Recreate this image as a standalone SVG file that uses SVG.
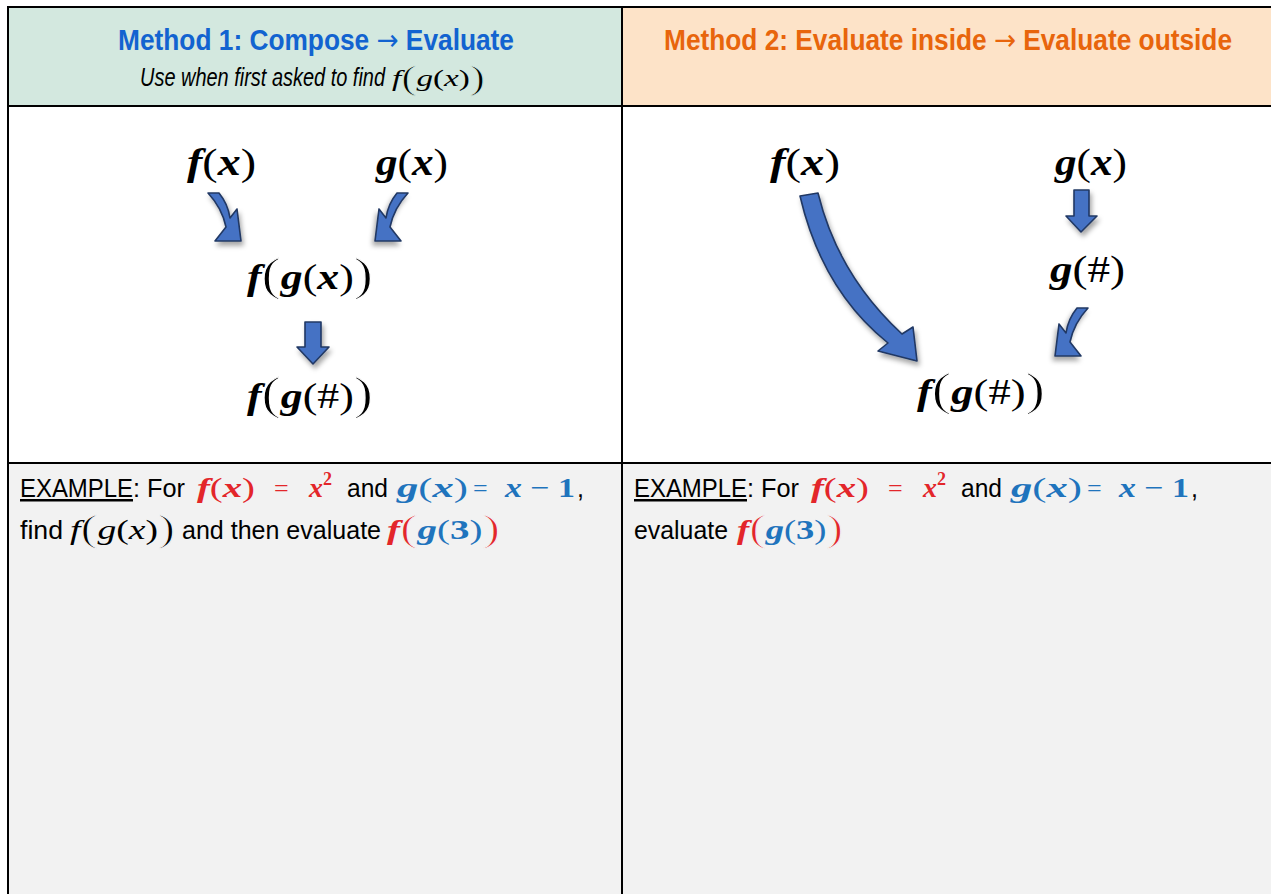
<svg xmlns="http://www.w3.org/2000/svg" width="1271" height="894" viewBox="0 0 1271 894">
<style>
.title{font-family:"Liberation Sans",Arial,sans-serif;font-weight:bold;font-size:29px}
.arr{font-family:"DejaVu Sans",sans-serif;font-weight:normal}
.sans{font-family:"Liberation Sans",Arial,sans-serif;font-size:25px;fill:#000}
.m{font-family:"Liberation Serif","Times New Roman",serif;font-weight:bold;font-style:italic;fill:#000}
.mi{font-family:"Liberation Serif","Times New Roman",serif;font-style:italic;fill:#000}
.p{font-style:normal;font-weight:normal}
.pb{font-style:normal}
.tw{stroke:#fff;stroke-width:1}
.tg{stroke:#f2f2f2;stroke-width:1}
.tt{stroke:#d3e8df;stroke-width:0.8}
.arrow{fill:#4472c4;stroke:#203864;stroke-width:1.6;stroke-linejoin:round;filter:url(#sh)}
.grid{stroke:#000;stroke-width:2;fill:none}
.red{fill:#e3262a}
.blue{fill:#1f74bd}
</style>
<defs>
<filter id="sh" x="-30%" y="-30%" width="160%" height="160%">
<feDropShadow dx="2" dy="4" stdDeviation="2.5" flood-color="#000" flood-opacity="0.35"/>
</filter>
<path id="curveArrow" d="M208,193 L219,193 Q228,204 230,218 L237,209 L241,241 L215,241 L226,227 Q222,208 208,193 Z"/>
</defs>

<g id="table">
<rect x="8" y="7" width="614" height="99" fill="#d3e8df"/>
<rect x="622" y="7" width="650" height="99" fill="#fde3c8"/>
<rect x="8" y="106" width="1264" height="357" fill="#ffffff"/>
<rect x="8" y="463" width="1264" height="431" fill="#f2f2f2"/>
<line class="grid" x1="8" y1="7" x2="1271" y2="7"/>
<line class="grid" x1="8" y1="6" x2="8" y2="894"/>
<line class="grid" x1="622" y1="6" x2="622" y2="894"/>
<line class="grid" x1="8" y1="106" x2="1271" y2="106"/>
<line class="grid" x1="8" y1="463" x2="1271" y2="463"/>
</g>

<g id="header1">
<text class="title" x="118" y="50" fill="#1263d0" textLength="396" lengthAdjust="spacingAndGlyphs">Method 1: Compose <tspan class="arr">→</tspan> Evaluate</text>
<text class="sans" x="140" y="86" font-size="22" font-style="italic" fill="#222" textLength="245" lengthAdjust="spacingAndGlyphs">Use when first asked to find</text>
<text class="mi" x="392" y="86" font-size="24" textLength="93" lengthAdjust="spacingAndGlyphs">f<tspan class="p tt" font-size="33" dy="3">(</tspan><tspan dy="-3">g</tspan><tspan class="p">(</tspan>x<tspan class="p">)</tspan><tspan class="p tt" font-size="33" dy="3">)</tspan></text>
</g>

<g id="header2">
<text class="title" x="664" y="50" fill="#e8650c" textLength="568" lengthAdjust="spacingAndGlyphs">Method 2: Evaluate inside <tspan class="arr">→</tspan> Evaluate outside</text>
</g>

<g id="m1-fx"><text class="m" x="187" y="175" font-size="37" textLength="69" lengthAdjust="spacingAndGlyphs">f<tspan class="p">(</tspan>x<tspan class="p">)</tspan></text></g>
<g id="m1-gx"><text class="m" x="376" y="175" font-size="37" textLength="72" lengthAdjust="spacingAndGlyphs">g<tspan class="p">(</tspan>x<tspan class="p">)</tspan></text></g>
<g id="m1-fgx"><text class="m" x="247" y="289" font-size="35" textLength="126" lengthAdjust="spacingAndGlyphs">f<tspan class="p tw" font-size="46" dy="1">(</tspan><tspan dy="-1">g</tspan><tspan class="p">(</tspan>x<tspan class="p">)</tspan><tspan class="p tw" font-size="46" dy="1">)</tspan></text></g>
<g id="m1-fgh"><text class="m" x="247" y="408" font-size="35" textLength="126" lengthAdjust="spacingAndGlyphs">f<tspan class="p tw" font-size="46" dy="1">(</tspan><tspan dy="-1">g</tspan><tspan class="p">(#)</tspan><tspan class="p tw" font-size="46" dy="1">)</tspan></text></g>

<g id="m2-fx"><text class="m" x="770" y="175" font-size="37" textLength="70" lengthAdjust="spacingAndGlyphs">f<tspan class="p">(</tspan>x<tspan class="p">)</tspan></text></g>
<g id="m2-gx"><text class="m" x="1055" y="175" font-size="37" textLength="72" lengthAdjust="spacingAndGlyphs">g<tspan class="p">(</tspan>x<tspan class="p">)</tspan></text></g>
<g id="m2-gh"><text class="m" x="1050" y="282" font-size="37" textLength="75" lengthAdjust="spacingAndGlyphs">g<tspan class="p">(#)</tspan></text></g>
<g id="m2-fgh"><text class="m" x="917" y="404" font-size="35" textLength="128" lengthAdjust="spacingAndGlyphs">f<tspan class="p tw" font-size="46" dy="1">(</tspan><tspan dy="-1">g</tspan><tspan class="p">(#)</tspan><tspan class="p tw" font-size="46" dy="1">)</tspan></text></g>

<g id="connectors">
<use href="#curveArrow" class="arrow"/>
<use href="#curveArrow" class="arrow" transform="translate(616,0) scale(-1,1)"/>
<path class="arrow" d="M305,322 L321,322 L321,347 L329,347 L313,364 L297,347 L305,347 Z"/>
<path class="arrow" d="M800,196 L818,193 Q838,275 902,334 L913,327 L917,361 L878,351 L888,343 Q822,290 800,196 Z"/>
<path class="arrow" d="M1074,190 L1089,190 L1089,216 L1097,216 L1081,232 L1066,216 L1074,216 Z"/>
<use href="#curveArrow" class="arrow" transform="translate(1296,115) scale(-1,1)"/>
</g>

<g id="example1">
<text class="sans" x="20" y="497" text-decoration="underline" textLength="113" lengthAdjust="spacingAndGlyphs">EXAMPLE</text>
<text class="sans" x="133" y="497" textLength="52" lengthAdjust="spacingAndGlyphs">: For</text>
<text class="m red" x="197" y="497" font-size="28" textLength="58" lengthAdjust="spacingAndGlyphs">f<tspan class="p">(</tspan>x<tspan class="p">)</tspan></text>
<text class="m red" x="274" y="497" font-size="26"><tspan class="p">=</tspan></text>
<text class="m red" x="309" y="497" font-size="28">x<tspan font-size="18" class="pb" dy="-12">2</tspan></text>
<text class="sans" x="347" y="497" textLength="41" lengthAdjust="spacingAndGlyphs">and</text>
<text class="m blue" x="397" y="497" font-size="28" textLength="71" lengthAdjust="spacingAndGlyphs">g<tspan class="p">(</tspan>x<tspan class="p">)</tspan></text>
<text class="m blue" x="473" y="497" font-size="26"><tspan class="p">=</tspan></text>
<text class="m blue" x="505" y="497" font-size="28" textLength="70" lengthAdjust="spacingAndGlyphs">x <tspan class="p">−</tspan> <tspan class="pb">1</tspan></text>
<text class="sans" x="577" y="497">,</text>
<text class="sans" x="20" y="539" textLength="43" lengthAdjust="spacingAndGlyphs">find</text>
<text class="mi" x="70" y="539" font-size="28" textLength="105" lengthAdjust="spacingAndGlyphs">f<tspan class="p tg" font-size="38" dy="2">(</tspan><tspan dy="-2">g</tspan><tspan class="p">(</tspan>x<tspan class="p">)</tspan><tspan class="p tg" font-size="38" dy="2">)</tspan></text>
<text class="sans" x="182" y="539" textLength="199" lengthAdjust="spacingAndGlyphs">and then evaluate</text>
<text class="m" x="387" y="539" font-size="28" textLength="113" lengthAdjust="spacingAndGlyphs"><tspan class="red">f</tspan><tspan class="p red tg" font-size="38" dy="2">(</tspan><tspan class="blue" dy="-2">g</tspan><tspan class="p blue">(</tspan><tspan class="pb blue">3</tspan><tspan class="p blue">)</tspan><tspan class="p red tg" font-size="38" dy="2">)</tspan></text>
</g>

<g id="example2">
<text class="sans" x="634" y="497" text-decoration="underline" textLength="113" lengthAdjust="spacingAndGlyphs">EXAMPLE</text>
<text class="sans" x="747" y="497" textLength="52" lengthAdjust="spacingAndGlyphs">: For</text>
<text class="m red" x="811" y="497" font-size="28" textLength="58" lengthAdjust="spacingAndGlyphs">f<tspan class="p">(</tspan>x<tspan class="p">)</tspan></text>
<text class="m red" x="888" y="497" font-size="26"><tspan class="p">=</tspan></text>
<text class="m red" x="923" y="497" font-size="28">x<tspan font-size="18" class="pb" dy="-12">2</tspan></text>
<text class="sans" x="961" y="497" textLength="41" lengthAdjust="spacingAndGlyphs">and</text>
<text class="m blue" x="1011" y="497" font-size="28" textLength="71" lengthAdjust="spacingAndGlyphs">g<tspan class="p">(</tspan>x<tspan class="p">)</tspan></text>
<text class="m blue" x="1087" y="497" font-size="26"><tspan class="p">=</tspan></text>
<text class="m blue" x="1119" y="497" font-size="28" textLength="70" lengthAdjust="spacingAndGlyphs">x <tspan class="p">−</tspan> <tspan class="pb">1</tspan></text>
<text class="sans" x="1191" y="497">,</text>
<text class="sans" x="634" y="539" textLength="94" lengthAdjust="spacingAndGlyphs">evaluate</text>
<text class="m" x="737" y="539" font-size="28" textLength="106" lengthAdjust="spacingAndGlyphs"><tspan class="red">f</tspan><tspan class="p red tg" font-size="38" dy="2">(</tspan><tspan class="blue" dy="-2">g</tspan><tspan class="p blue">(</tspan><tspan class="pb blue">3</tspan><tspan class="p blue">)</tspan><tspan class="p red tg" font-size="38" dy="2">)</tspan></text>
</g>
</svg>
